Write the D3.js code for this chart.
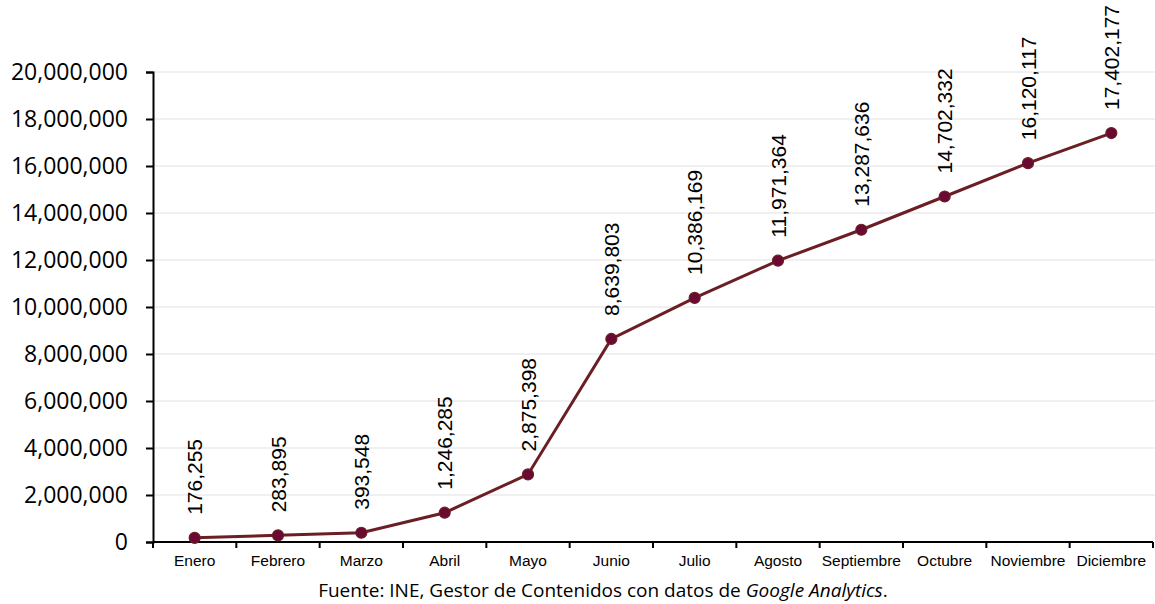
<!DOCTYPE html>
<html><head><meta charset="utf-8">
<script src="https://cdn.jsdelivr.net/npm/d3@7"></script>
<style>
body{margin:0;background:#fff;}
svg{display:block;}
</style></head>
<body>
<svg id="c" width="1155" height="604"></svg>
<script>
const months = ["Enero","Febrero","Marzo","Abril","Mayo","Junio","Julio","Agosto","Septiembre","Octubre","Noviembre","Diciembre"];
const values = [176255,283895,393548,1246285,2875398,8639803,10386169,11971364,13287636,14702332,16120117,17402177];
const yTicks = [0,2000000,4000000,6000000,8000000,10000000,12000000,14000000,16000000,18000000,20000000];
const sourcePre = "Fuente: INE, Gestor de Contenidos con datos de ";
const sourceItalic = "Google Analytics";
const sourcePost = ".";

(function(){
const svg = d3.select("#c");
const pL = 153, pR = 1153, pT = 72, pB = 542;
const x = d3.scaleBand().domain(months).range([pL, pR]);
const y = d3.scaleLinear().domain([0, 20000000]).range([pB, pT]);
const fmt = d3.format(",");
const lineColor = "#6b1e24", dotColor = "#6a0a32";

// gridlines
svg.append("g").selectAll("line").data(yTicks.filter(d=>d>0)).join("line")
  .attr("x1", pL).attr("x2", 1155)
  .attr("y1", d=>y(d)).attr("y2", d=>y(d))
  .attr("stroke", "#ebebeb").attr("stroke-width", 1.5);

// y axis
const ya = svg.append("g").attr("transform", `translate(${pL},0)`)
  .call(d3.axisLeft(y).tickValues(yTicks).tickFormat(fmt).tickSize(7).tickPadding(18));
ya.select(".domain").attr("stroke","#000").attr("stroke-width",2);
ya.selectAll(".tick line").attr("stroke","#000").attr("stroke-width",2);
ya.selectAll("text").attr("font-family","'Open Sans', sans-serif").attr("font-size","23px").attr("fill","#000");

// x axis
const xa = svg.append("g").attr("transform", `translate(0,${pB})`)
  .call(d3.axisBottom(x).tickSize(0).tickPadding(13));
xa.select(".domain").attr("stroke","#000").attr("stroke-width",2).attr("d", `M${pL},0H${pR}`);
xa.selectAll(".tick line").remove();
xa.selectAll("text").attr("font-family","'Liberation Sans', Arial, sans-serif").attr("font-size","15.5px").attr("fill","#000");
// boundary ticks
const bounds = months.map(m=>x(m)).concat([pR]);
svg.append("g").selectAll("line").data(bounds).join("line")
  .attr("x1", d=>d).attr("x2", d=>d).attr("y1", pB).attr("y2", pB+6)
  .attr("stroke","#000").attr("stroke-width",2);

const cx = m => x(m) + x.bandwidth()/2;
const line = d3.line().x((d,i)=>cx(months[i])).y(d=>y(d));
svg.append("path").datum(values).attr("d", line)
  .attr("fill","none").attr("stroke", lineColor).attr("stroke-width", 3);
svg.append("g").selectAll("circle").data(values).join("circle")
  .attr("cx",(d,i)=>cx(months[i])).attr("cy",d=>y(d)).attr("r",5.5)
  .attr("fill",dotColor).attr("stroke",lineColor).attr("stroke-width",1.2);

// data labels
svg.append("g").selectAll("text").data(values).join("text")
  .attr("transform",(d,i)=>`translate(${cx(months[i])},${y(d)-23}) rotate(-90)`)
  .attr("dy","0.36em").attr("text-anchor","start")
  .attr("font-family","'Liberation Sans', Arial, sans-serif").attr("font-size","21px").attr("fill","#000")
  .text(d=>fmt(d));

// source
const src = svg.append("text").attr("x", 603).attr("y", 597).attr("text-anchor","middle")
  .attr("font-family","'Open Sans', sans-serif").attr("font-size","19px").attr("fill","#000");
src.append("tspan").text(sourcePre);
src.append("tspan").attr("font-style","italic").text(sourceItalic);
src.append("tspan").text(sourcePost);
})();
</script>
</body></html>
